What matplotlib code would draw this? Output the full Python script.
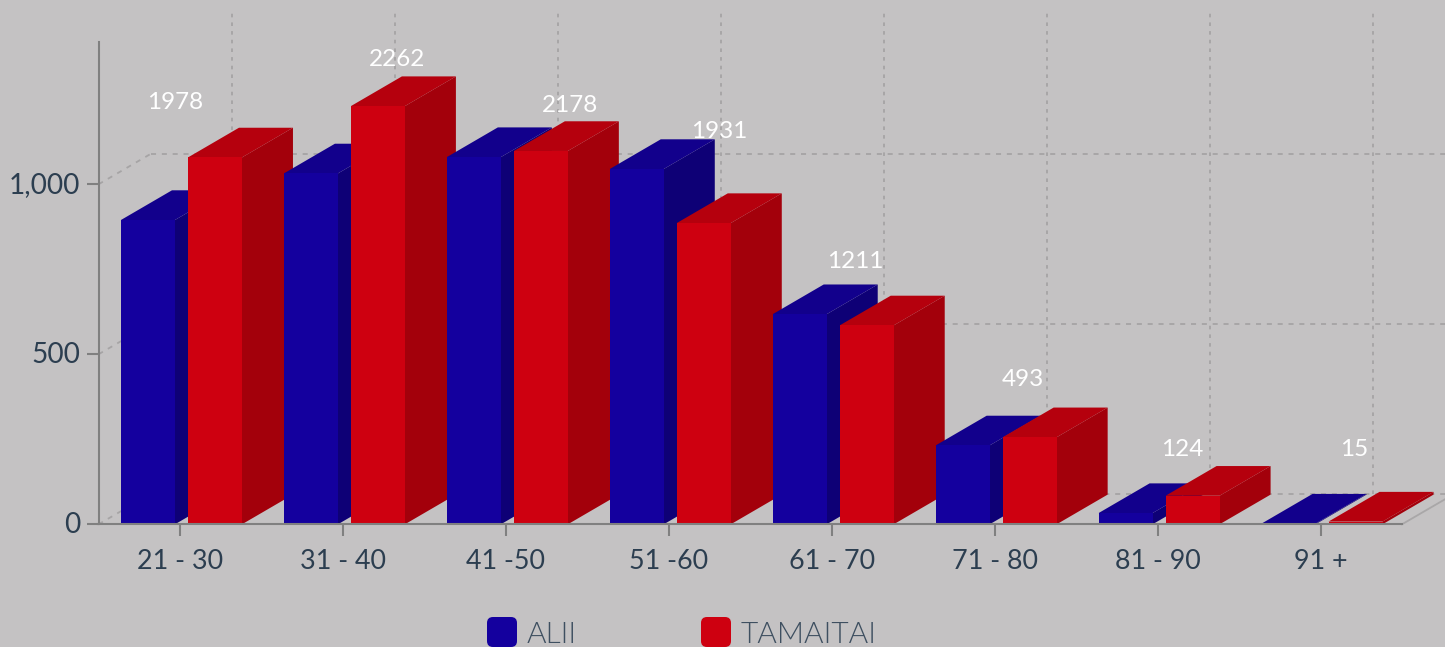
import matplotlib
matplotlib.use("Agg")
import matplotlib.pyplot as plt
from matplotlib import font_manager as fm
from matplotlib.patches import FancyBboxPatch
from matplotlib.transforms import Affine2D, ScaledTranslation
from matplotlib.ticker import FuncFormatter

W, H = 1445, 647

categories = ["21 - 30", "31 - 40", "41 -50", "51 -60", "61 - 70", "71 - 80", "81 - 90", "91 +"]
alii = [895, 1032, 1080, 1045, 618, 232, 33, 2]
tamaitai = [1079, 1230, 1098, 886, 585, 256, 84, 8]
totals = [1978, 2262, 2178, 1931, 1211, 493, 124, 15]
y_ticks = [0, 500, 1000]
series_names = ["ALII", "TAMAITAI"]

label_px = [(175, 102.5), (397, 59.5), (570, 105), (719.5, 131), (855, 261), (1023, 379), (1182, 449), (1354, 449)]

BG = "#C4C2C3"
TEXT = "#2C3E50"
AXIS = "#808080"
GRID = "#A6A4A5"
BLUE = ("#14009E", "#12008C", "#0E0076")
RED = ("#CE0010", "#B5000D", "#A3000B")

plt.rcParams["font.family"] = ["Lato", "DejaVu Sans"]

light_files = [f.fname for f in fm.fontManager.ttflist if f.fname.endswith("Lato-Light.ttf")]
legend_font = fm.FontProperties(fname=light_files[0], size=21.5) if light_files else fm.FontProperties(family="Lato", size=21.5)

fig = plt.figure(figsize=(W / 100, H / 100), dpi=100, facecolor=BG)
L, R, T, B = 98.5, 1402, 42, 524.3
ax = fig.add_axes([L / W, 1 - B / H, (R - L) / W, (B - T) / H], facecolor="none")
ax.set_xlim(-0.5, 7.5)
ax.set_ylim(0, (B - T) / 0.34)

px_x = (R - L) / 8
px_y = 0.34
DX = 51 / px_x      # depth in x units
DY = 29.7 / px_y    # depth in y units
GDY = 30.3 / px_y   # depth of the back wall
GDX = 52 / px_x
BAR_W = 54 / px_x
OFF_B = -32 / px_x
OFF_R = 35 / px_x

dash_h = (0, (2.8, 3.2))
dash_v = (0, (2.0, 2.8))
grid_kw = dict(color=GRID, lw=1.3, clip_on=False, zorder=1)
x_end = 7.5 + (W - R) / px_x
top_y = (B - 12) / px_y
for v in y_ticks:
    ax.plot([-0.5, -0.5 + GDX], [v, v + GDY], ls=dash_h, **grid_kw)
    ax.plot([-0.5 + GDX, x_end], [v + GDY, v + GDY], ls=dash_h, **grid_kw)
for i in range(len(categories)):
    ax.plot([i + GDX, i + GDX], [GDY, top_y], ls=dash_v, **grid_kw)
ax.plot([7.5, 7.5 + DX * 0.85], [0, DY * 0.85], color="#A9A7A8", lw=1.3, clip_on=False, zorder=1)


def bar3d(x, v, colors, z):
    x0, x1 = x - BAR_W / 2, x + BAR_W / 2
    ax.fill([x1, x1 + DX, x1 + DX, x1], [0, DY, v + DY, v], color=colors[2], lw=0, clip_on=False, zorder=z)
    ax.fill([x0, x1, x1 + DX, x0 + DX], [v, v, v + DY, v + DY], color=colors[1], lw=0, clip_on=False, zorder=z)
    ax.bar(x, v, width=BAR_W, color=colors[0], lw=0, clip_on=False, zorder=z)


z = 3
for i in range(len(categories)):
    bar3d(i + OFF_B, alii[i], BLUE, z)
    bar3d(i + OFF_R, tamaitai[i], RED, z + 1)
    z += 2

for s in ("top", "right"):
    ax.spines[s].set_visible(False)
for s in ("left", "bottom"):
    ax.spines[s].set_color(AXIS)
    ax.spines[s].set_linewidth(1.5)
    ax.spines[s].set_zorder(50)

ax.set_xticks(range(len(categories)), categories)
ax.set_yticks(y_ticks)
ax.yaxis.set_major_formatter(FuncFormatter(lambda v, _: f"{int(v):,}"))
ax.tick_params(axis="x", length=8.5, width=1.5, color=AXIS, labelcolor=TEXT, labelsize=19.4, pad=9.5)
ax.tick_params(axis="y", length=8.3, width=1.5, color=AXIS, labelcolor=TEXT, labelsize=20.2, pad=5)
shift = ScaledTranslation(0, 1.5 / 72, fig.dpi_scale_trans)
for lab in ax.get_yticklabels():
    lab.set_transform(lab.get_transform() + shift)

px = Affine2D().scale(1 / W, -1 / H).translate(0, 1) + fig.transFigure
for (x, y), t in zip(label_px, totals):
    fig.text(x, y, str(t), transform=px, color="white", fontsize=17.5, ha="center", va="center", zorder=60)

for x, c, name, tx in [(487, BLUE[0], series_names[0], 527), (701, RED[0], series_names[1], 741)]:
    fig.add_artist(FancyBboxPatch((x + 6, 617 + 6), 18, 18, boxstyle="round,pad=6,rounding_size=6",
                                  transform=px, facecolor=c, edgecolor="none"))
    fig.text(tx, 643, name, transform=px, color="#3E4F60", fontproperties=legend_font, ha="left", va="baseline")

fig.savefig("out.png", dpi=100, facecolor=BG)
